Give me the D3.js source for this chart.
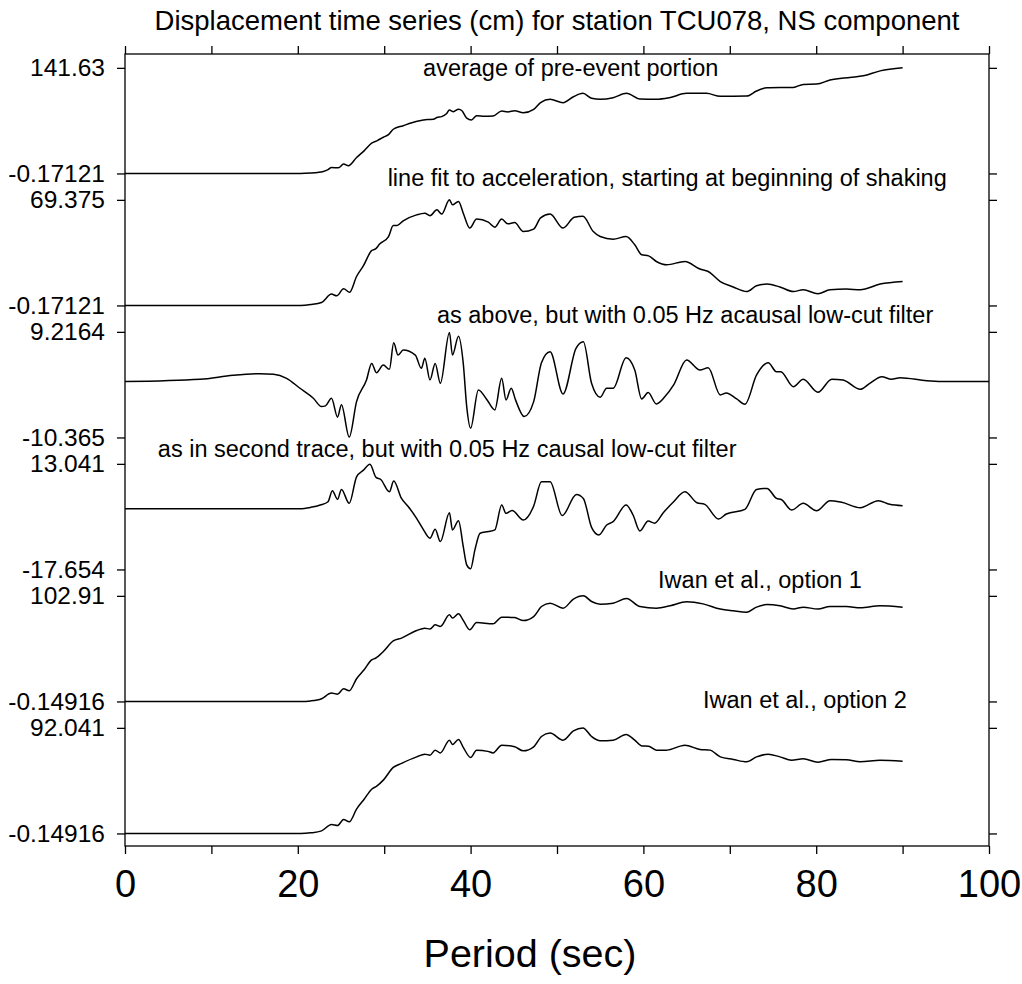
<!DOCTYPE html>
<html>
<head>
<meta charset="utf-8">
<script src="https://cdn.jsdelivr.net/npm/d3@7"></script>
<style>
  html, body { margin: 0; padding: 0; background: #fff; }
  svg { display: block; font-family: "Liberation Sans", Arial, Helvetica, sans-serif; }
</style>
</head>
<body>
<div id="chart"></div>
<script>
// ---------------- DATA ----------------
const titleText = "Displacement time series (cm) for station TCU078, NS component";
const xLabelText = "Period (sec)";
const xTicks = [0, 10, 20, 30, 40, 50, 60, 70, 80, 90, 100];
const xTickLabels = ["0", "", "20", "", "40", "", "60", "", "80", "", "100"];

const traceNames = [
  "average of pre-event portion",
  "line fit to acceleration, starting at beginning of shaking",
  "as above, but with 0.05 Hz acausal low-cut filter",
  "as in second trace, but with 0.05 Hz causal low-cut filter",
  "Iwan et al., option 1",
  "Iwan et al., option 2"
];
// per-trace y range (tick labels)
const yMaxLabels = ["141.63", "69.375", "9.2164", "13.041", "102.91", "92.041"];
const yMinLabels = ["-0.17121", "-0.17121", "-10.365", "-17.654", "-0.14916", "-0.14916"];
// annotation anchor (time in s, value in cm of that trace)
const labelTime = [34.5, 30.4, 36.1, 3.8, 61.7, 66.9];
const labelValue = [130.5, 78.3, 10.8, 15.0, 111.0, 109.2];

// traces: [time (s), displacement (cm)]
const trace1 = [[0,-0.17],[20.3,-0.17],[21.5,0.4],[22.3,1.2],[22.95,2.5],[23.5,5],[23.9,7.9],[24.7,7.4],[25.3,12.4],[25.85,10.1],[26.8,21.2],[27.7,30.5],[28.55,40.5],[29.2,44],[29.9,48.5],[30.5,52],[31.05,59.2],[32.2,64.0],[33.2,68],[34.1,70.7],[35.0,72.2],[35.7,72.6],[36.1,75],[36.65,76.1],[37.2,80],[37.55,85.0],[38.0,82.8],[38.6,86.0],[39.0,84],[39.55,74.0],[40.1,71.7],[40.7,77.4],[41.6,76.5],[42.6,77.0],[43.6,83.7],[44.3,82.5],[45.1,84.1],[46.1,81.4],[47.3,86.0],[48.1,95.1],[49.2,99.4],[50.7,94.8],[51.9,102.8],[53.0,107.4],[54.0,100.7],[55.0,99.4],[56.5,101.5],[58.05,107.4],[59.6,99.8],[61.5,99.4],[63.0,101.5],[65.0,107.4],[67.3,107.4],[68.9,103.4],[71.95,103.8],[73.1,110.5],[74.3,114.9],[77.35,115.4],[78.5,119.4],[80.05,119.8],[81.6,125.2],[83.9,128.8],[85.45,130.9],[87.4,137.6],[90,141.63]];

const trace2 = [[0,-0.17],[20.3,-0.17],[21.5,0.4],[22.75,1.8],[23.9,7.3],[24.5,6.2],[25.3,10.8],[26.0,8.6],[26.8,18.9],[27.6,26.0],[28.55,36.0],[29.0,37.1],[29.5,40.4],[30.5,45.2],[31.05,52.5],[31.5,52.5],[32.2,55.6],[33.75,59.5],[34.7,60.6],[35.3,58.9],[36.1,62.8],[36.65,60.0],[37.55,69.4],[37.9,66.1],[38.6,68.3],[39.15,60.6],[39.9,50.8],[40.7,56.7],[42.05,54.7],[42.8,51.4],[43.6,56.7],[44.3,53.6],[45.1,54.4],[46.1,48.5],[47.3,50.1],[48.1,57.5],[49.2,60.0],[50.7,50.8],[52.0,57.9],[53.0,58.5],[54.2,48.5],[55.0,45.2],[56.5,43.5],[58.0,45.2],[59.0,39.8],[59.8,33.2],[60.6,32.5],[61.5,28.8],[62.7,26.6],[64.8,28.8],[66.55,23.8],[67.5,22.2],[68.9,15.6],[70.4,12.0],[71.95,9.0],[73.1,12.8],[74.3,13.9],[75.8,12.0],[77.35,9.0],[78.5,10.2],[80.2,7.5],[81.6,10.2],[83.5,10.6],[85.1,10.2],[87.4,13.9],[90,15.6]];

const trace3 = [[0,0],[8.7,0.43],[12.5,1.17],[15.6,1.46],[17.2,1.35],[18.7,0.6],[20.25,-1.24],[21.8,-3.09],[22.75,-4.64],[23.2,-4.5],[23.9,-3.09],[24.6,-6.6],[25.05,-4.3],[25.95,-10.3],[26.8,-3.72],[27.95,0.29],[28.55,3.37],[29.1,1.64],[29.9,3.06],[30.6,2.27],[31.1,7.18],[31.6,4.91],[32.2,5.83],[33.6,4.91],[34.3,2.45],[34.7,4.3],[35.3,0.29],[35.9,3.37],[36.5,-0.32],[37.55,9.1],[37.9,4.91],[38.6,8.4],[39.15,3.37],[39.55,-4.64],[40.0,-8.63],[40.9,-1.56],[41.85,-3.27],[42.8,-5.25],[43.6,0.6],[44.1,-3.4],[44.7,-1.24],[45.2,-3.4],[46.2,-6.49],[47.3,-3.72],[48.2,3.5],[49.2,5.52],[50.7,-2.3],[52.2,6.15],[53.05,7.37],[54.0,-0.32],[55.0,-2.9],[55.75,-1.24],[56.5,-1.24],[58.0,4.41],[59.0,2.14],[59.8,-3.22],[60.55,-2.05],[61.5,-4.14],[62.5,-2.79],[63.5,-0.63],[65.0,3.98],[66.55,2.14],[67.5,2.56],[68.9,-2.48],[69.6,-2.1],[70.8,-3.22],[71.75,-4.2],[73.1,1.22],[74.45,3.49],[75.4,1.82],[75.9,1.82],[77.35,-0.95],[78.5,0.43],[80.2,-1.98],[81.8,0.43],[83.1,0.29],[85.1,-1.43],[86.2,-0.32],[87.6,0.9],[88.7,0.43],[89.7,0.72],[92.8,0.17],[95.5,0],[100,0]];

const trace4 = [[0,0],[20.25,0],[21.5,0.4],[22.6,1.07],[23.5,2.04],[24.0,5.22],[24.6,2.73],[25.05,5.62],[25.95,1.56],[26.8,9.28],[27.6,11.22],[28.35,12.96],[29.05,9.11],[29.6,8.5],[30.6,4.93],[31.1,8.03],[32.0,3.0],[32.8,0.57],[33.75,-2.79],[34.45,-5.69],[35.3,-8.59],[35.9,-5.98],[36.5,-9.56],[37.55,-1.16],[37.9,-6.17],[38.6,-3.48],[39.15,-11.0],[39.55,-16.3],[40.0,-17.45],[40.5,-11.95],[41.1,-7.12],[42.05,-6.65],[42.8,-6.17],[43.6,1.07],[44.1,-1.35],[44.8,-0.5],[46.1,-3.28],[47.3,0.77],[48.2,7.83],[49.2,7.83],[50.6,-2.0],[52.25,4.16],[53.05,3.0],[54.0,-5.4],[54.85,-7.63],[55.75,-4.73],[56.5,-3.77],[58.0,1.07],[58.8,-1.82],[59.6,-6.46],[60.55,-3.57],[61.3,-4.2],[62.3,-1.16],[63.5,2.04],[64.8,4.93],[66.2,1.74],[67.1,1.27],[68.7,-2.99],[69.6,-1.54],[71.75,-0.17],[73.1,5.62],[74.3,5.91],[75.4,3.0],[76.0,2.6],[77.15,-0.39],[78.5,1.56],[80.05,-0.6],[81.6,2.33],[82.95,1.85],[85.1,0.29],[87.2,2.33],[88.5,1.27],[90,0.87]];

const trace5 = [[0,-0.149],[20.3,-0.149],[21.5,0.4],[22.75,2.5],[23.9,8.0],[24.6,7.0],[25.3,12.2],[25.95,10.3],[26.8,22.0],[27.7,31],[28.55,40.5],[29.0,42],[29.9,48.6],[31.05,59.0],[32.0,61.7],[33.75,69.1],[34.7,71.4],[35.3,70.5],[35.9,74.6],[36.5,73.0],[37.55,84.4],[37.9,81.2],[38.6,85.4],[39.15,79],[39.9,69.8],[40.7,76.9],[42.6,75.6],[43.6,82.1],[45.1,81.7],[46.1,78.8],[47.3,82.7],[48.2,92.5],[49.2,95.8],[50.7,90.9],[51.9,99.7],[53.05,102.9],[54.0,97.4],[55.0,94.8],[56.5,95.8],[58.05,100.3],[59.6,92.5],[61.5,90.9],[63.1,93.2],[65.0,97.1],[66.9,95.1],[68.9,90.0],[70.4,88.3],[71.95,87.0],[73.1,91.9],[74.3,94.4],[75.8,93.2],[77.35,90.2],[78.5,91.9],[80.2,90.0],[81.6,92.5],[83.5,92.5],[85.1,91.2],[87.4,93.2],[90,91.9]];

const trace6 = [[0,-0.149],[20.3,-0.149],[21.5,0.4],[22.75,2.1],[23.9,7.7],[24.6,6.8],[25.3,12.1],[25.95,10.0],[26.8,21.1],[27.7,30],[28.55,38.5],[29.1,41],[29.9,46.4],[31.05,57.5],[32.0,61.0],[33.75,66.7],[34.7,69.1],[35.3,68.2],[35.9,72.6],[36.5,70.2],[37.55,81.3],[37.9,77.6],[38.6,81.9],[39.15,75],[40.0,66.2],[40.7,72.6],[42.0,71.5],[42.6,70.2],[43.6,76.9],[45.1,75.5],[46.1,72.0],[47.3,75.5],[48.2,84.5],[49.2,87.5],[50.7,81.3],[51.9,89.4],[53.0,92.0],[54.0,84.5],[55.0,80.7],[56.5,81.3],[58.0,86.3],[59.0,81.3],[59.8,76.3],[60.6,76],[61.5,72.6],[62.7,72.6],[64.8,76.9],[66.55,73.2],[67.7,72.6],[68.9,66.7],[70.4,64.5],[71.95,62.4],[73.1,66.7],[74.45,69.1],[75.8,66.7],[77.15,63.8],[78.5,65.0],[80.2,62.1],[81.8,64.5],[83.5,64.3],[85.1,62.4],[87.4,63.8],[90,62.9]];

const traces = [trace1, trace2, trace3, trace4, trace5, trace6];

// ---------------- LAYOUT ----------------
const W = 1022, H = 984;
const L = 125, R = 989, T = 54, B = 846;
const FONT = '"Liberation Sans", Arial, Helvetica, sans-serif';

const svg = d3.select("#chart").append("svg")
  .attr("width", W).attr("height", H)
  .attr("viewBox", `0 0 ${W} ${H}`);

const x = d3.scaleLinear().domain([0, 100]).range([L, R]);
const band = d3.scaleBand().domain(d3.range(traces.length)).range([T, B]);
const bw = band.bandwidth();

const yScales = traces.map((tr, i) => d3.scaleLinear()
  .domain([+yMinLabels[i], +yMaxLabels[i]])
  .range([band(i) + 0.905 * bw, band(i) + 0.105 * bw]));

// title
svg.append("text")
  .attr("x", (L + R) / 2).attr("y", 30)
  .attr("text-anchor", "middle")
  .style("font-size", "27.5px")
  .text(titleText);

// frame
svg.append("rect")
  .attr("x", L).attr("y", T).attr("width", R - L).attr("height", B - T)
  .attr("fill", "none").attr("stroke", "#000").attr("stroke-width", 1.3);

// x axes
const gBottom = svg.append("g").attr("transform", `translate(0,${B})`)
  .call(d3.axisBottom(x).tickValues(xTicks).tickSize(8).tickPadding(16)
    .tickFormat((d, i) => xTickLabels[i]));
const gTop = svg.append("g").attr("transform", `translate(0,${T})`)
  .call(d3.axisTop(x).tickValues(xTicks).tickSize(8).tickFormat(""));
[gBottom, gTop].forEach(g => {
  g.select(".domain").remove();
  g.selectAll("line").attr("stroke", "#000").attr("stroke-width", 1.3);
});
gBottom.selectAll("text").style("font-size", "38px").style("font-family", FONT).attr("fill", "#000");

// y axes per trace
traces.forEach((tr, i) => {
  const y = yScales[i];
  const vals = [+yMinLabels[i], +yMaxLabels[i]];
  const labs = [yMinLabels[i], yMaxLabels[i]];
  const gl = svg.append("g").attr("transform", `translate(${L},0)`)
    .call(d3.axisLeft(y).tickValues(vals).tickSize(8).tickPadding(12)
      .tickFormat((d, k) => labs[k]));
  const gr = svg.append("g").attr("transform", `translate(${R},0)`)
    .call(d3.axisRight(y).tickValues(vals).tickSize(8).tickFormat(""));
  [gl, gr].forEach(g => {
    g.select(".domain").remove();
    g.selectAll("line").attr("stroke", "#000").attr("stroke-width", 1.3);
  });
  gl.selectAll("text").style("font-size", "24.5px").style("font-family", FONT).attr("fill", "#000");

  const line = d3.line().x(d => x(d[0])).y(d => y(d[1])).curve(d3.curveMonotoneX);
  svg.append("path").datum(tr)
    .attr("d", line)
    .attr("fill", "none").attr("stroke", "#000").attr("stroke-width", 1.5)
    .attr("stroke-linejoin", "round");

  svg.append("text")
    .attr("x", x(labelTime[i])).attr("y", y(labelValue[i]))
    .style("font-size", "23.5px")
    .text(traceNames[i]);
});

// x label
svg.append("text")
  .attr("x", 530).attr("y", 967)
  .attr("text-anchor", "middle")
  .style("font-size", "39.5px")
  .text(xLabelText);
</script>
</body>
</html>
